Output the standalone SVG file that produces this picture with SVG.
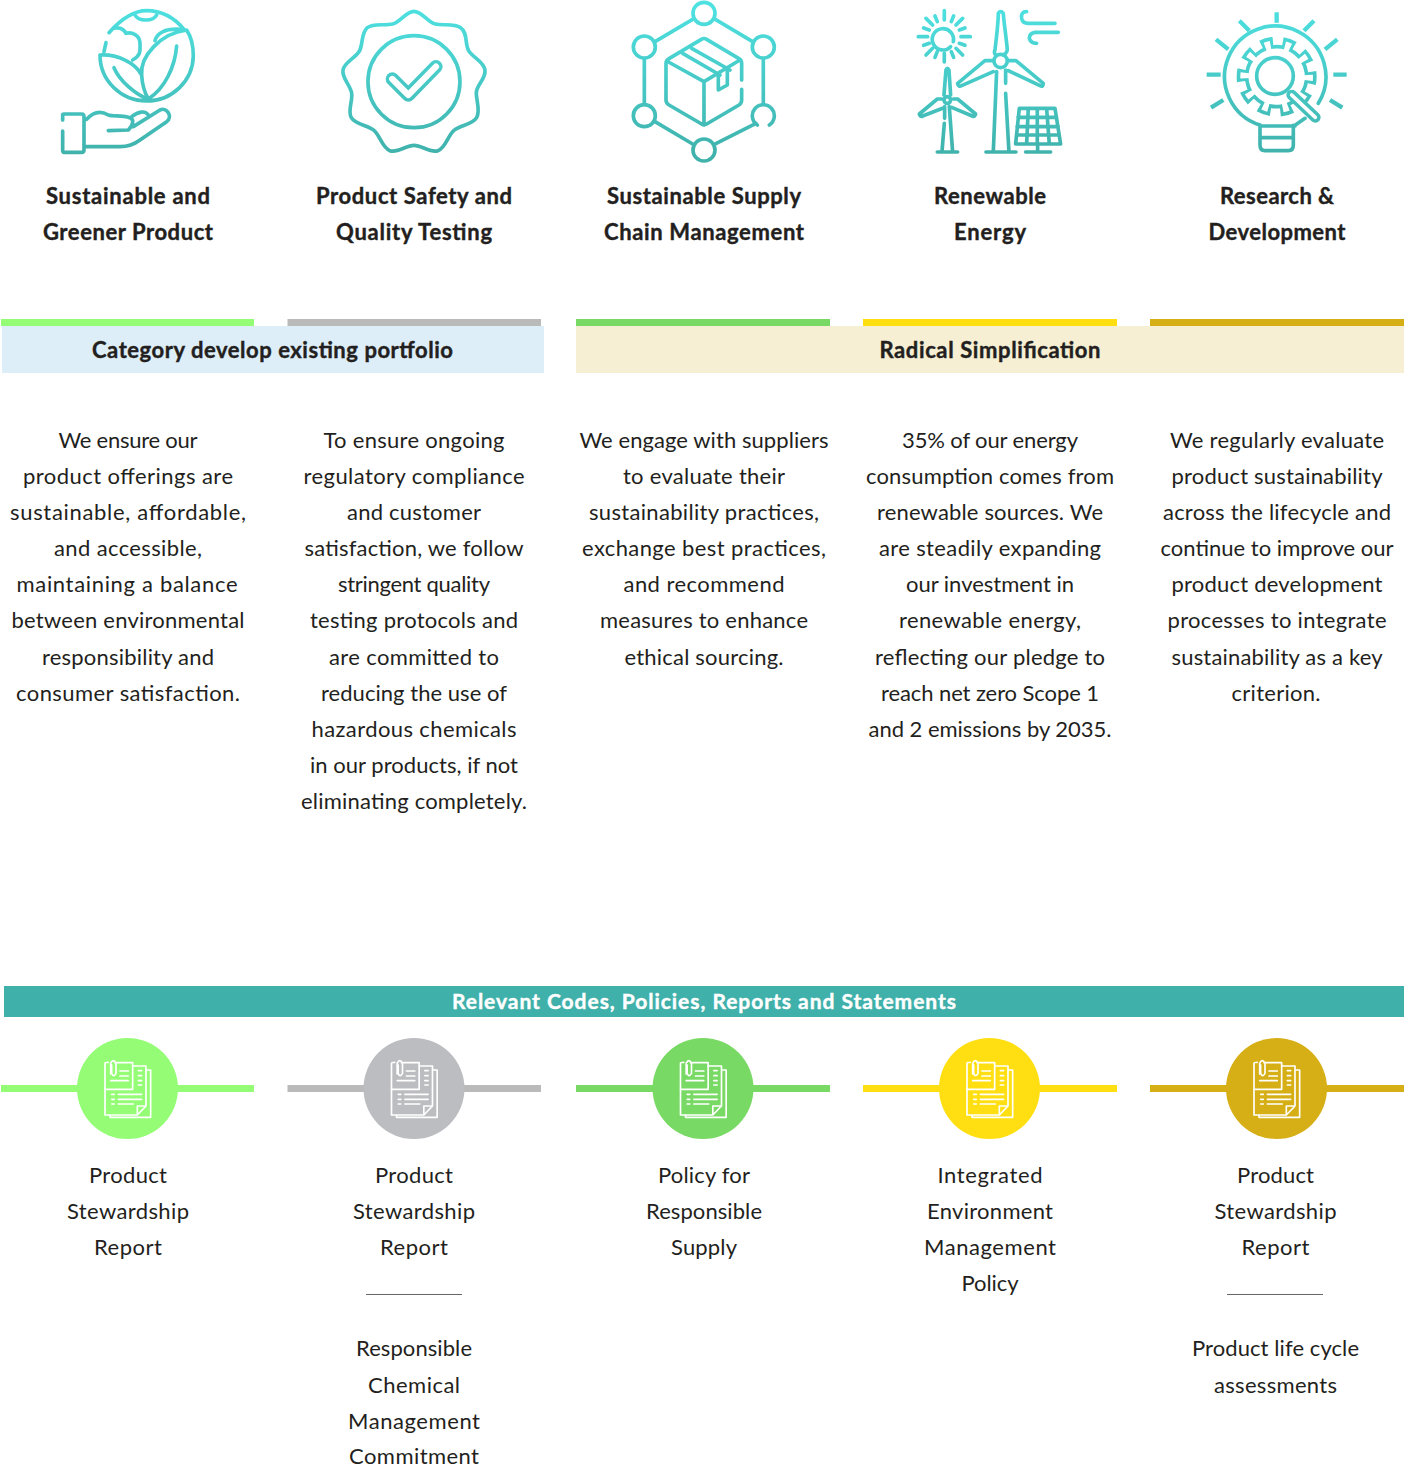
<svg xmlns="http://www.w3.org/2000/svg" width="1404" height="1466" viewBox="0 0 1404 1466">
<style>
text{font-family:"Lato","Liberation Sans",sans-serif;fill:#231f20;text-anchor:middle;font-size:22px}
.b{font-weight:700;stroke:#231f20;stroke-width:.4}
.w{fill:#fff;font-weight:700;font-size:21px;stroke:#fff;stroke-width:.4}
.i{fill:none;stroke:url(#g);stroke-width:11;stroke-linecap:round;stroke-linejoin:round}
.d{fill:none;stroke:#fff;stroke-width:5;stroke-linecap:round;stroke-linejoin:round}
</style>
<defs>
<linearGradient id="g" gradientUnits="userSpaceOnUse" x1="0" y1="20" x2="0" y2="470"><stop offset="0" stop-color="#4de1e1"/><stop offset="1" stop-color="#40b1ab"/></linearGradient>
<g id="doc" transform="translate(60 1030) scale(.3333)">
<path class="d" d="M165 98H218V178H135V100Q135 97 145 97M152 132V100Q160 84 168 100V130Q160 144 155 130V105"/>
<path class="d" d="M218 108H258V228M258 120H272V262H150V255M135 178V255H232L258 228M232 255V228H258"/>
<path class="d" d="M180 123H205M180 138H205M152 152H205M235 122H245M235 137H245M235 152H245M235 165H245M155 193H163M175 193H245M155 208H163M175 208H245M155 222H163M175 222H220"/>
</g>
</defs>
<rect width="1404" height="1466" fill="#fff"/>

<g id="connectors">
<path d="M1 1088.500H254" stroke="#94fd75" stroke-width="7"/>
<path d="M287.500 1088.500H541" stroke="#bababa" stroke-width="7"/>
<path d="M576 1088.500H830" stroke="#78d964" stroke-width="7"/>
<path d="M863 1088.500H1117" stroke="#ffdf12" stroke-width="7"/>
<path d="M1150 1088.500H1404" stroke="#d6ae15" stroke-width="7"/>
</g>

<g id="icon-product" transform="translate(40 0) scale(.3333)">
<path class="i" d="M207 98C250 50 285 32 320 32C360 32 400 50 432 88M285 45C295 65 340 65 350 45M222 85C240 80 250 85 258 100C275 95 300 105 300 130C300 150 305 165 278 180M198 128L192 155"/>
<path class="i" d="M180 165A140 138 0 0 0 320 303A140 138 0 0 0 460 168C460 135 452 108 440 90C360 100 300 170 305 225C307 260 315 280 325 297C375 265 405 200 410 138M180 165C235 162 285 190 303 222M222 203C240 245 285 280 318 295M345 122C350 100 375 85 420 88"/>
<path class="i" d="M68 360V345Q68 342 72 342H125Q132 342 132 350V450Q132 457 125 457H72Q68 457 68 450V393M140 358C160 335 180 330 205 345C220 350 245 345 265 352C285 355 280 375 265 390L205 392M275 350C295 335 315 330 325 345M280 380L360 330C380 320 400 350 380 365L300 420C280 435 265 440 240 440H135"/>
</g>

<g id="icon-safety" transform="translate(40 0) scale(.3333)">
<path class="i" d="M1122 34C1146 34 1163 66 1186 72S1240 68 1262 83S1274 131 1286 152S1331 184 1335 210S1309 255 1309 279S1322 332 1310 353S1260 376 1242 391S1217 444 1194 452S1146 436 1122 436S1073 460 1050 452S1020 406 1002 391S946 374 934 353S939 303 935 279S905 234 909 210S949 173 959 152S964 98 982 83S1035 78 1058 72S1098 34 1122 34Z"/>
<circle class="i" cx="1122" cy="245" r="138"/>
<path class="i" style="stroke-width:40" d="M1057 237L1105 285L1188 200"/>
<path d="M1057 237L1105 285L1188 200" fill="none" stroke="#fff" stroke-width="19" stroke-linecap="round" stroke-linejoin="round"/>
</g>

<g id="icon-supply" transform="translate(610 0) scale(.3333)">
<circle class="i" cx="282" cy="40" r="33"/><circle class="i" cx="103" cy="141" r="33"/><circle class="i" cx="460" cy="141" r="33"/><circle class="i" cx="103" cy="347" r="33"/><circle class="i" cx="282" cy="450" r="33"/>
<path class="i" d="M442 375A33 33 0 1 1 478 375M135 125L248 58M316 58L428 125M103 178V310M460 178V310M135 365L248 432M316 432L438 370"/>
<path class="i" d="M395 240V190Q395 180 387 176L290 118Q282 113 274 118L177 176Q168 181 168 190V300Q168 310 177 315L275 372Q282 377 290 372L387 315Q395 310 395 300V268M170 183L282 245V375M282 245L385 183M218 160L330 225M245 145L360 210M325 225V270L352 255V205"/>
</g>

<g id="icon-energy" transform="translate(610 0) scale(.3333)">
<path class="i" d="M1022 140A32 32 0 1 1 1030 125"/>
<path class="i" d="M1003 32V60M1003 160V186M925 110H953M1053 110H1081M948 55L968 75M1058 55L1038 75M948 165L968 145M1058 165L1038 145M975 48L982 65M1031 48L1024 65M975 172L982 155M1031 172L1024 155M941 84L958 90M1065 84L1048 90M941 136L958 130M1065 136L1048 130"/>
<circle class="i" cx="1172" cy="183" r="20"/>
<path class="i" d="M1160 215L1150 456M1187 210V250M1187 280L1197 456M1128 456H1218M1155 150C1160 110 1165 60 1165 40Q1172 30 1180 40C1182 70 1190 120 1192 150Q1190 160 1180 165M1155 162Q1152 157 1155 150M1148 182H1125L1043 250Q1045 262 1055 257L1150 215M1195 182H1218L1300 250Q1300 262 1290 257L1195 212"/>
<circle class="i" cx="1012" cy="300" r="10"/>
<path class="i" d="M1002 285L1008 210Q1012 200 1017 210L1022 285M995 297H982L928 342Q930 352 938 348L998 325M1030 297H1043L1097 342Q1095 352 1087 348L1025 322M1004 320V355M1003 370L996 456M1018 320L1028 456M982 456H1043"/>
<path class="i" d="M1250 35Q1232 35 1235 55Q1238 70 1255 70H1335M1345 97H1275Q1258 100 1258 115Q1262 130 1280 130"/>
<path class="i" d="M1228 325H1335L1352 432H1217ZM1224 352H1340M1221 380H1345M1219 405H1348M1255 325L1250 432M1282 325V432M1310 325L1318 432M1283 432V456M1247 456H1322"/>
</g>

<g id="icon-rnd" transform="translate(1190 0) scale(.3333)">
<path class="i" d="M210 375A152 152 0 1 1 385 310M345 355L315 376M210 378H315M210 378V435Q210 452 225 452H295Q310 452 310 435V376M210 413H310"/>
<path class="i" style="stroke-linecap:butt;stroke-width:13" d="M260 37V68M148 62L178 92M78 118L115 148M50 224H92M63 323L100 300M372 62L342 92M442 118L405 148M470 224H430M457 323L420 300"/>
<g transform="rotate(-8 260 230)">
<circle cx="260" cy="230" r="103" pathLength="360" fill="none" stroke="url(#g)" stroke-width="34" stroke-dasharray="20 16"/>
<circle cx="260" cy="230" r="90" fill="none" stroke="url(#g)" stroke-width="11"/>
<circle cx="260" cy="230" r="93.500" pathLength="360" fill="none" stroke="#fff" stroke-width="31" stroke-dasharray="10 26" stroke-dashoffset="-5"/>
</g>
<path class="i" style="stroke-width:32" d="M305 285L376 352"/>
<path d="M305 285L376 352" fill="none" stroke="#fff" stroke-width="11" stroke-linecap="round"/>
<circle class="i" cx="255" cy="228" r="55" style="fill:#fff"/>
</g>

<g id="card-1">
<rect x="1" y="319" width="253" height="7" fill="#94fd75"/>
<text class="b" x="128" y="204" textLength="164">Sustainable and</text>
<text class="b" x="128" y="240" textLength="170">Greener Product</text>
<text x="128" y="448" textLength="139">We ensure our</text>
<text x="128" y="484" textLength="210">product offerings are</text>
<text x="128" y="520" textLength="236">sustainable, affordable,</text>
<text x="128" y="556" textLength="148">and accessible,</text>
<text x="127" y="592" textLength="221">maintaining a balance</text>
<text x="128" y="628" textLength="233">between environmental</text>
<text x="128" y="665" textLength="172">responsibility and</text>
<text x="128" y="701" textLength="224">consumer satisfaction.</text>
</g>
<g id="card-2">
<rect x="287.500" y="319" width="253.500" height="7" fill="#bababa"/>
<text class="b" x="414" y="204" textLength="196">Product Safety and</text>
<text class="b" x="414" y="240" textLength="156">Quality Testing</text>
<text x="414" y="448" textLength="181">To ensure ongoing</text>
<text x="414" y="484" textLength="221">regulatory compliance</text>
<text x="414" y="520" textLength="134">and customer</text>
<text x="414" y="556" textLength="219">satisfaction, we follow</text>
<text x="414" y="592" textLength="152">stringent quality</text>
<text x="414" y="628" textLength="208">testing protocols and</text>
<text x="414" y="665" textLength="170">are committed to</text>
<text x="414" y="701" textLength="186">reducing the use of</text>
<text x="414" y="737" textLength="205">hazardous chemicals</text>
<text x="414" y="773" textLength="208">in our products, if not</text>
<text x="414" y="809" textLength="226">eliminating completely.</text>
</g>
<g id="card-3">
<rect x="576" y="319" width="254" height="7" fill="#78d964"/>
<text class="b" x="704" y="204" textLength="194">Sustainable Supply</text>
<text class="b" x="704" y="240" textLength="200">Chain Management</text>
<text x="704" y="448" textLength="249">We engage with suppliers</text>
<text x="704" y="484" textLength="162">to evaluate their</text>
<text x="704" y="520" textLength="230">sustainability practices,</text>
<text x="704" y="556" textLength="244">exchange best practices,</text>
<text x="704" y="592" textLength="161">and recommend</text>
<text x="704" y="628" textLength="208">measures to enhance</text>
<text x="704" y="665" textLength="159">ethical sourcing.</text>
</g>
<g id="card-4">
<rect x="863" y="319" width="254" height="7" fill="#ffdf12"/>
<text class="b" x="990" y="204" textLength="112">Renewable</text>
<text class="b" x="990" y="240" textLength="72">Energy</text>
<text x="990" y="448" textLength="176">35% of our energy</text>
<text x="990" y="484" textLength="248">consumption comes from</text>
<text x="990" y="520" textLength="226">renewable sources. We</text>
<text x="990" y="556" textLength="222">are steadily expanding</text>
<text x="990" y="592" textLength="168">our investment in</text>
<text x="990" y="628" textLength="182">renewable energy,</text>
<text x="990" y="665" textLength="230">reflecting our pledge to</text>
<text x="990" y="701" textLength="218">reach net zero Scope 1</text>
<text x="990" y="737" textLength="243">and 2 emissions by 2035.</text>
</g>
<g id="card-5">
<rect x="1150" y="319" width="254" height="7" fill="#d6ae15"/>
<text class="b" x="1277" y="204" textLength="114">Research &amp;</text>
<text class="b" x="1277" y="240" textLength="137">Development</text>
<text x="1277" y="448" textLength="214">We regularly evaluate</text>
<text x="1277" y="484" textLength="211">product sustainability</text>
<text x="1277" y="520" textLength="228">across the lifecycle and</text>
<text x="1277" y="556" textLength="233">continue to improve our</text>
<text x="1277" y="592" textLength="211">product development</text>
<text x="1277" y="628" textLength="219">processes to integrate</text>
<text x="1277" y="665" textLength="211">sustainability as a key</text>
<text x="1276" y="701" textLength="89">criterion.</text>
</g>

<g id="band-category">
<rect x="2" y="326" width="542" height="47" fill="#deeef9"/>
<text class="b" x="272.500" y="358" textLength="361">Category develop existing portfolio</text>
</g>
<g id="band-radical">
<rect x="576" y="326" width="828" height="47" fill="#f6efd3"/>
<text class="b" x="990" y="358" textLength="221">Radical Simplification</text>
</g>
<g id="band-relevant">
<rect x="4" y="986" width="1400" height="31" fill="#3fb0aa"/>
<text class="w" x="704" y="1009" textLength="504">Relevant Codes, Policies, Reports and Statements</text>
</g>

<g id="doc-1"><circle cx="127.500" cy="1088.500" r="50.500" fill="#94fd75"/><use href="#doc"/>
<text x="128" y="1183" textLength="78">Product</text><text x="128" y="1219" textLength="122">Stewardship</text><text x="128" y="1255" textLength="68">Report</text></g>
<g id="doc-2"><circle cx="414" cy="1088.500" r="50.500" fill="#bcbdc0"/><use href="#doc" x="286.500"/>
<text x="414" y="1183" textLength="78">Product</text><text x="414" y="1219" textLength="122">Stewardship</text><text x="414" y="1255" textLength="68">Report</text>
<path d="M366 1294.500H462" stroke="#666" stroke-width="1"/>
<text x="414" y="1356" textLength="116">Responsible</text><text x="414" y="1393" textLength="92">Chemical</text><text x="414" y="1429" textLength="132">Management</text><text x="414" y="1464" textLength="130">Commitment</text></g>
<g id="doc-3"><circle cx="703" cy="1088.500" r="50.500" fill="#78d964"/><use href="#doc" x="575.500"/>
<text x="704" y="1183" textLength="92">Policy for</text><text x="704" y="1219" textLength="116">Responsible</text><text x="704" y="1255" textLength="66">Supply</text></g>
<g id="doc-4"><circle cx="989.500" cy="1088.500" r="50.500" fill="#ffdf12"/><use href="#doc" x="862"/>
<text x="990" y="1183" textLength="105">Integrated</text><text x="990" y="1219" textLength="126">Environment</text><text x="990" y="1255" textLength="132">Management</text><text x="990" y="1291" textLength="57">Policy</text></g>
<g id="doc-5"><circle cx="1276.500" cy="1088.500" r="50.500" fill="#d6ae15"/><use href="#doc" x="1149"/>
<text x="1275.500" y="1183" textLength="77">Product</text><text x="1275.500" y="1219" textLength="122">Stewardship</text><text x="1275.500" y="1255" textLength="68">Report</text>
<path d="M1227 1294.500H1323" stroke="#666" stroke-width="1"/>
<text x="1275.500" y="1356" textLength="167">Product life cycle</text><text x="1275.500" y="1393" textLength="123">assessments</text></g>
</svg>
